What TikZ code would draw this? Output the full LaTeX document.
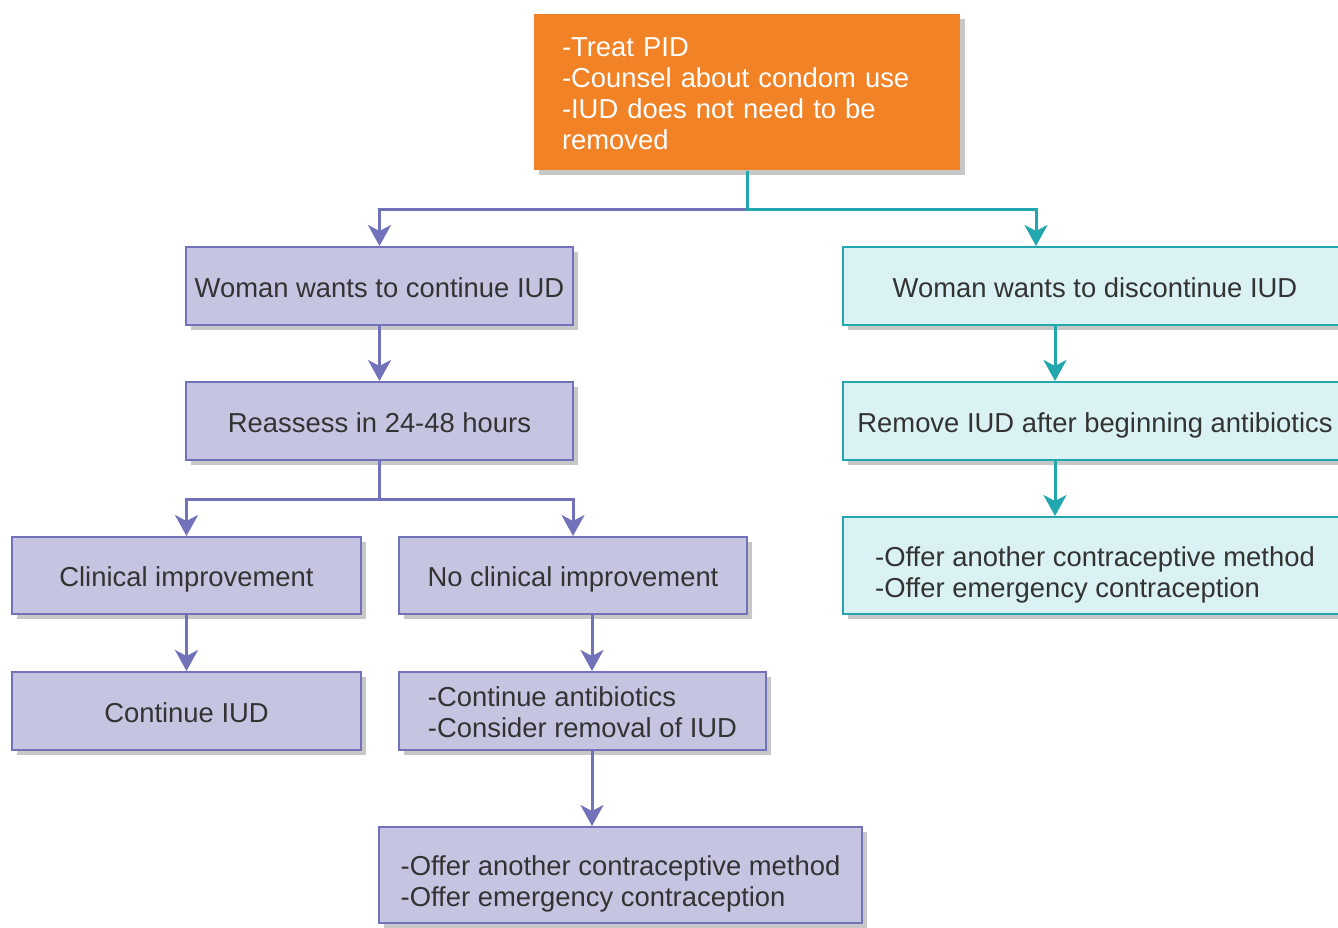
\documentclass[tikz,border=0pt]{standalone}
\usepackage{fontspec}
\setmainfont{Liberation Sans}
\usepackage{tikz}
\usetikzlibrary{arrows.meta,shadows}

\definecolor{pidorange}{HTML}{F28226}
\definecolor{lavfill}{HTML}{C5C5E2}
\definecolor{lavline}{HTML}{7272BA}
\definecolor{tealfill}{HTML}{DAF2F3}
\definecolor{tealline}{HTML}{22A7AF}
\definecolor{boxtext}{HTML}{333333}

\tikzset{
  box/.style={rectangle,line width=2pt,inner sep=0pt,
    font=\fontsize{27.4}{31}\selectfont,text=boxtext,
    execute at begin node={\rule[-6pt]{0pt}{34pt}},
    execute at end node={\rule[-6pt]{0pt}{6pt}},
    drop shadow={shadow xshift=5pt,shadow yshift=-5pt,fill=black!22,opacity=1}},
  lav/.style={box,draw=lavline,fill=lavfill},
  tealbox/.style={box,draw=tealline,fill=tealfill},
  topgap/.style={execute at begin node={\rule{0pt}{#1}}},
  lavarrow/.style={->,draw=lavline,line width=3pt},
  tealarrow/.style={->,draw=tealline,line width=3pt}
}

\begin{document}
\begin{tikzpicture}[x=1pt,y=-1pt,>={Stealth[length=21pt,width=23pt,inset=6pt]}]
      \useasboundingbox (0,0) rectangle (1338,927);
      \clip (0,0) rectangle (1338,927);

      \node[box,fill=pidorange,text=white,draw=none,minimum width=426,minimum height=156,
            inner xsep=28pt,text width=370pt,align=left] (pid) at (747,92)
            {-Treat PID\\-Counsel about condom use\\-IUD does not need to be\\removed};

      \node[lav,minimum width=387,minimum height=78] (keep) at (379.5,286) {Woman wants to continue IUD};
      \node[lav,minimum width=387,minimum height=78] (reassess) at (379.5,421) {Reassess in 24-48 hours};
      \node[lav,minimum width=349,minimum height=77] (clin) at (186.5,575.5) {Clinical improvement};
      \node[lav,minimum width=348,minimum height=77] (noclin) at (573,575.5) {No clinical improvement};
      \node[lav,minimum width=349,minimum height=78] (contiud) at (186.5,711) {Continue IUD};
      \node[lav,minimum width=367,minimum height=78,align=left,topgap=58pt]
            (abx) at (582.5,711) {-Continue antibiotics\\-Consider removal of IUD};
      \node[lav,minimum width=483,minimum height=96,align=left,topgap=69pt]
            (offerleft) at (620.5,875) {-Offer another contraceptive method\\-Offer emergency contraception};

      \node[tealbox,minimum width=504,minimum height=78] (stop) at (1095,286) {Woman wants to discontinue IUD};
      \node[tealbox,minimum width=504,minimum height=78] (remove) at (1095,421) {Remove IUD after beginning antibiotics};
      \node[tealbox,minimum width=504,minimum height=97,align=left,topgap=69pt]
            (offerright) at (1095,565.5) {-Offer another contraceptive method\\-Offer emergency contraception};

      \coordinate (split) at ([yshift=-38pt]pid.south);
      \coordinate (fork) at ([yshift=-38pt]reassess.south);
      \coordinate (abxline) at ([xshift=9.5pt]abx.north);
      \coordinate (tealin) at ([xshift=-59pt]stop.north);
      \coordinate (tealline) at ([xshift=-40pt]stop.south);

      \draw[lavarrow] (split) -| (keep.north);
      \draw[tealarrow] (pid.south) -- (split) -| (tealin);
      \draw[tealarrow] (tealline) -- (tealline |- remove.north);
      \draw[tealarrow] (tealline |- remove.south) -- (tealline |- offerright.north);

      \draw[lavarrow] (keep) -- (reassess);
      \draw[lavarrow] (reassess.south) -- (fork) -| (clin.north);
      \draw[lavarrow] (fork) -| (noclin.north);
      \draw[lavarrow] (clin) -- (contiud);
      \draw[lavarrow] (abxline |- noclin.south) -- (abxline);
      \draw[lavarrow] (abxline |- abx.south) -- (abxline |- offerleft.north);
    \end{tikzpicture}
\end{document}
